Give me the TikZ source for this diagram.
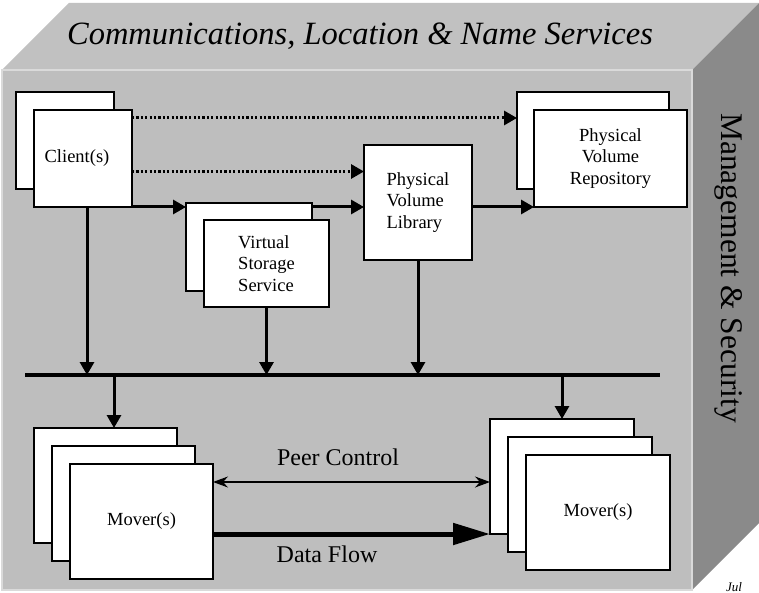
\documentclass[tikz,border=0pt]{standalone}
\usepackage{fontspec}
\setmainfont{Liberation Serif}
\usetikzlibrary{arrows.meta}
\definecolor{frontgray}{RGB}{190,190,190}
\definecolor{topgray}{RGB}{193,193,193}
\definecolor{sidegray}{RGB}{138,138,138}
\definecolor{edgegray}{RGB}{218,218,218}

\begin{document}
\begin{tikzpicture}[x=1pt,y=-1pt]
	\tikzstyle{box} = [draw=black, fill=white, line width=1.2, inner sep=0, outer sep=0, font=\fontsize{18.5}{21.5}\selectfont]
	\tikzstyle{edge} = [draw=black, line width=3, -{Triangle[length=13pt,width=14pt]}]
	\tikzstyle{dots} = [edge, dash pattern=on 2.2pt off 2.2pt]
	\tikzstyle{peer} = [draw=black, line width=1.2, {Stealth[length=15pt,width=11pt,inset=5pt]}-{Stealth[length=15pt,width=11pt,inset=5pt]}]
	\tikzstyle{flow} = [draw=black, line width=5, -{Triangle[length=37pt,width=21pt]}]
	\tikzstyle{label} = [font=\fontsize{24}{28}\selectfont]
	\useasboundingbox (0,0) rectangle (759,593);
	% the block
	\fill[topgray] (2,70) -- (69,3) -- (759,3) -- (692,70) -- cycle;
	\fill[sidegray] (692,70) -- (759,3) -- (759,523) -- (692,590) -- cycle;
	\filldraw[fill=frontgray, draw=edgegray, line width=1.5] (2,70) rectangle (692,590);
	\node[font=\fontsize{32.5}{38}\selectfont\itshape] (title) at (360,36) {Communications, Location \& Name Services};
	\node[rotate=-90, font=\fontsize{31.5}{36}\selectfont] (mgmt) at (729,268) {Management \& Security};
	\node[anchor=south west, inner sep=0, font=\fontsize{13}{15}\selectfont\itshape] (date) at (726,592) {Jul};
	% servers
	\node[box, minimum width=98pt, minimum height=97pt] (clientb) at (65,140.5) {};
	\node[box, minimum width=98pt, minimum height=97pt] (client) at (83,158.5) {Client(s)\hspace*{12pt}};
	\node[box, minimum width=152pt, minimum height=97pt] (pvrb) at (593,140.5) {};
	\node[box, minimum width=153pt, minimum height=97pt, align=center] (pvr) at (610.5,158.5) {Physical\\Volume\\Repository};
	\node[box, minimum width=108pt, minimum height=115pt, align=left] (pvl) at (418,202.5) {Physical\\Volume\\Library};
	\node[box, minimum width=126pt, minimum height=88pt] (vssb) at (249,247) {};
	\node[box, minimum width=125pt, minimum height=87pt, align=left] (vss) at (266.5,263.5) {Virtual\\Storage\\Service};
	% movers
	\node[box, minimum width=143pt, minimum height=115pt] (mlb) at (105.5,485.5) {};
	\node[box, minimum width=143pt, minimum height=115pt] (mlm) at (123.5,503.5) {};
	\node[box, minimum width=143pt, minimum height=115pt] (ml) at (141.5,521.5) {Mover(s)};
	\node[box, minimum width=144pt, minimum height=115pt] (mrb) at (562,476.5) {};
	\node[box, minimum width=144pt, minimum height=115pt] (mrm) at (580,494.5) {};
	\node[box, minimum width=144pt, minimum height=115pt] (mr) at (598,512.5) {Mover(s)};
	\node[label] (peerlbl) at (338,457) {Peer Control};
	\node[label] (flowlbl) at (327,554) {Data Flow};
	% bus
	\coordinate (busl) at (25,375);
	\coordinate (busr) at (660,375);
	\draw[line width=4] (busl) -- (busr);
	% control paths
	\draw[dots] ([yshift=-8pt]client.north east) coordinate (c1) -- (c1 -| pvrb.west);
	\draw[dots] ([yshift=-13pt]client.east) coordinate (c2) -- (c2 -| pvl.west);
	\draw[edge] (client.south east) -- (client.south east -| vssb.west);
	\draw[edge] (client.south east -| vssb.east) -- (client.south east -| pvl.west);
	\draw[edge] (pvl.east |- pvr.south west) -- (pvr.south west);
	\draw[edge] ([xshift=4pt]client.south) coordinate (c3) -- (c3 |- busl);
	\draw[edge] (vss.south) -- (vss.south |- busl);
	\draw[edge] (pvl.south) -- (pvl.south |- busl);
	\coordinate (m1) at ([xshift=8.5pt]mlb.north);
	\draw[edge] (m1 |- busl) -- (m1);
	\draw[edge] (mrb.north |- busl) -- (mrb.north);
	% mover to mover
	\draw[peer] ([yshift=-18pt]ml.north east) coordinate (p1) -- (p1 -| mrb.west);
	\draw[flow] (ml.east |- mrb.south west) -- (mrb.south west);
\end{tikzpicture}
\end{document}
